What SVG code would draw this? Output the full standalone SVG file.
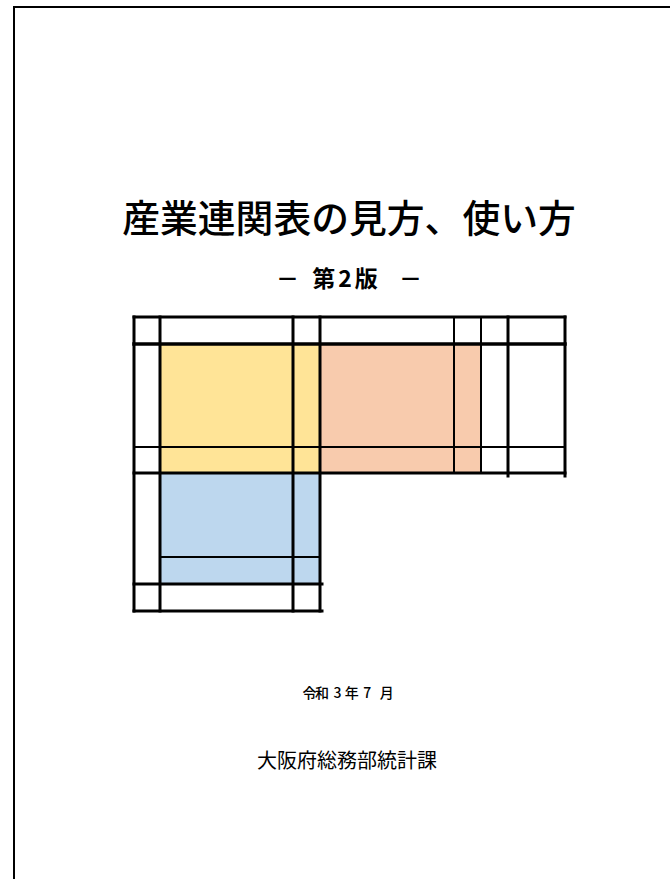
<svg xmlns="http://www.w3.org/2000/svg" width="670" height="879" viewBox="0 0 670 879">
<style>
.t{font-family:"Noto Sans CJK JP","Noto Sans CJK SC",sans-serif;fill:#000;text-anchor:middle}
.k{stroke:#000;fill:none;stroke-linecap:square}
.w2{stroke-width:2}
.w3{stroke-width:3}
.w4{stroke-width:3.5}
</style>
<rect x="0" y="0" width="670" height="879" fill="#fff"/>
<g id="frame">
<line class="k w2" x1="14" y1="7" x2="671" y2="7"/>
<line class="k w2" x1="14" y1="7" x2="14" y2="880"/>
</g>
<g id="title">
<text class="t" x="349" y="232" font-size="37.8" font-weight="500">産業連関表の見方、使い方</text>
</g>
<g id="subtitle">
<text class="t" y="287" font-size="23" font-weight="bold"><tspan x="287.5">－</tspan><tspan x="346.5" letter-spacing="3">第2版</tspan><tspan x="410.5">－</tspan></text>
</g>
<g id="table">
<rect id="yellow" x="160" y="344" width="160" height="129" fill="#FFE497"/>
<rect id="orange" x="320" y="344" width="161" height="129" fill="#F8CBAD"/>
<rect id="blue" x="160" y="473" width="160" height="111" fill="#BDD7EE"/>
<g id="lines">
<line class="k w3" x1="134" y1="317" x2="565" y2="317"/>
<line class="k w4" x1="134" y1="344" x2="565" y2="344"/>
<line class="k w2" x1="134" y1="447" x2="565" y2="447"/>
<line class="k w3" x1="134" y1="473" x2="565" y2="473"/>
<line class="k w2" x1="160" y1="557" x2="320" y2="557"/>
<line class="k w3" x1="134" y1="584" x2="322" y2="584"/>
<line class="k w3" x1="134" y1="611" x2="322" y2="611"/>
<line class="k w3" x1="134" y1="317" x2="134" y2="611"/>
<line class="k w3" x1="160" y1="317" x2="160" y2="611"/>
<line class="k w3" x1="293" y1="317" x2="293" y2="611"/>
<line class="k w3" x1="320" y1="317" x2="320" y2="611"/>
<line class="k w2" x1="454" y1="317" x2="454" y2="473"/>
<line class="k w2" x1="481" y1="317" x2="481" y2="473"/>
<line class="k w3" x1="508" y1="317" x2="508" y2="476"/>
<line class="k w3" x1="565" y1="317" x2="565" y2="476"/>
</g>
</g>
<g id="date">
<text class="t" x="309.5 322 337.5 351.7 367.2 386.7" y="697.5" font-size="14" font-weight="500">令和3年7月</text>
</g>
<g id="dept">
<text class="t" x="347" y="768" font-size="20">大阪府総務部統計課</text>
</g>
</svg>
